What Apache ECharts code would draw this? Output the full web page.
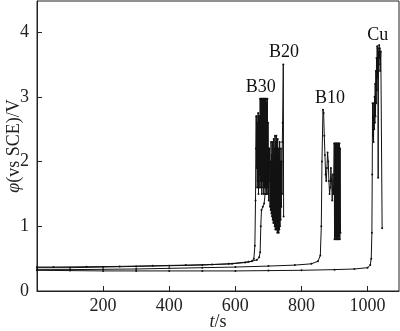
<!DOCTYPE html>
<html>
<head>
<meta charset="utf-8">
<script src="https://cdn.jsdelivr.net/npm/echarts@6/dist/echarts.min.js"></script>
<style>
  html, body { margin: 0; padding: 0; background: #fff; }
  #chart { width: 400px; height: 331px; }
</style>
</head>
<body>
<div id="chart"></div>
<script>
// 时间 t/s, 电位 φ/V，按曲线读取
let b30 = [
  [0, 0.37], [50, 0.37], [150, 0.375], [250, 0.38], [350, 0.39], [450, 0.4], [530, 0.41], [590, 0.42],
  [630, 0.44], [650, 0.46], [656, 0.5], [659, 0.7], [661, 1.4], [662, 2.2], [663, 2.7],
  [664, 1.9], [665, 2.7], [666, 1.6], [667, 2.6], [668, 1.7], [669, 2.75], [670, 1.5], [671, 2.7],
  [672, 1.8], [673, 2.7], [674, 1.6], [675, 2.97], [676, 1.7], [677, 2.97], [678, 1.6], [679, 2.97],
  [680, 1.5], [681, 2.97], [682, 1.7], [683, 2.97], [684, 1.6], [685, 2.97], [686, 1.5], [687, 2.97],
  [688, 1.6], [689, 2.97], [690, 1.7], [691, 2.97], [692, 1.6], [693, 2.97], [694, 1.5], [695, 2.9],
  [696, 1.7], [697, 2.97], [698, 1.6], [699, 2.6], [700, 1.5], [701, 2.2], [702, 1.7]
]
let b20 = [
  [0, 0.36], [100, 0.36], [200, 0.37], [300, 0.38], [400, 0.39], [500, 0.4], [580, 0.42], [640, 0.45],
  [665, 0.48], [672, 0.52], [675, 0.6], [677, 1.0], [679, 1.25], [683, 1.3], [687, 1.35], [690, 1.5],
  [693, 1.9], [696, 1.5], [699, 2.1], [701, 1.4], [703, 2.2], [705, 1.3], [706, 2.0], [707, 1.25],
  [708, 2.3], [709, 1.2], [710, 2.1], [711, 1.15], [712, 2.3], [713, 1.1], [714, 2.0], [715, 1.05],
  [716, 2.35], [717, 1.1], [718, 2.2], [719, 1.0], [720, 2.4], [721, 0.95], [722, 2.3], [723, 1.0],
  [724, 2.4], [725, 0.95], [726, 2.2], [727, 0.9], [728, 2.35], [729, 0.95], [730, 2.2], [731, 0.9],
  [732, 2.1], [733, 0.95], [734, 2.3], [735, 1.0], [736, 2.0], [737, 1.1], [738, 2.2], [739, 1.3],
  [740, 2.0], [741, 1.5], [742, 2.3], [743, 2.6], [745, 3.5], [746, 1.15]
]
let b10 = [
  [0, 0.33], [100, 0.33], [200, 0.335], [300, 0.34], [400, 0.35], [500, 0.36], [600, 0.37], [700, 0.385],
  [780, 0.4], [830, 0.42], [850, 0.46], [857, 0.55], [860, 1.0], [862, 2.0], [865, 2.8], [867, 2.75],
  [869, 2.4], [871, 2.1], [873, 1.8], [875, 1.7], [877, 1.9], [879, 2.14], [881, 2.0], [883, 1.7],
  [885, 1.5], [887, 1.6], [889, 1.9], [891, 1.7], [893, 1.4], [895, 1.8], [897, 1.5],
  [899, 2.28], [900, 0.8], [901, 2.28], [902, 0.85], [903, 2.28], [904, 0.8], [905, 2.28], [906, 0.8],
  [907, 2.28], [908, 0.85], [909, 2.28], [910, 0.8], [911, 2.28], [912, 0.8], [913, 2.28], [914, 0.85],
  [915, 2.28], [916, 0.8], [917, 2.2], [918, 0.9]
]
let cu = [
  [0, 0.32], [100, 0.315], [200, 0.31], [300, 0.31], [400, 0.31], [500, 0.31], [600, 0.31], [700, 0.315],
  [800, 0.32], [900, 0.33], [960, 0.34], [1000, 0.36], [1008, 0.4], [1011, 0.5], [1013, 0.9], [1014, 1.8],
  [1015, 2.9], [1016, 2.4], [1017, 2.7], [1018, 2.3], [1019, 2.9], [1020, 2.5], [1021, 3.0], [1022, 2.6],
  [1023, 3.2], [1024, 2.7], [1025, 3.4], [1026, 2.9], [1027, 3.6], [1028, 3.1], [1029, 3.78], [1030, 3.3],
  [1031, 3.75], [1032, 1.75], [1033, 3.7], [1034, 3.5], [1035, 3.8], [1036, 3.6], [1037, 3.75], [1038, 3.4],
  [1040, 3.7], [1044, 0.97]
]
// 曲线标注位置
let tags = [
  { name: 'B30', at: [677, 3.15] },
  { name: 'B20', at: [747, 3.69] },
  { name: 'B10', at: [886, 2.98] },
  { name: 'Cu', at: [1031, 3.95] }
]
let curves = { B30: b30, B20: b20, B10: b10, Cu: cu }

let font = "'Liberation Serif', 'Times New Roman', serif"
let myChart = echarts.init(document.getElementById('chart'))

let opt = {
  animation: false,
  grid: {
    left: 37, right: 1, top: 1, bottom: 40,
    containLabel: false,
    outerBoundsMode: 'none',
    show: true, borderColor: '#222', borderWidth: 1
  },
  xAxis: {
    type: 'value',
    min: 0, max: 1095, interval: 200,
    name: '{i|t}/s',
    nameLocation: 'middle',
    nameGap: 22,
    nameMoveOverlap: false,
    nameTextStyle: {
      fontFamily: font, fontSize: 18, color: '#222',
      rich: { i: { fontFamily: font, fontSize: 18, fontStyle: 'italic', color: '#222' } }
    },
    axisLine: { lineStyle: { color: '#222', width: 1 } },
    axisTick: { inside: true, length: 5, lineStyle: { color: '#222' } },
    axisLabel: {
      fontFamily: font, fontSize: 18, color: '#222', margin: 6,
      showMaxLabel: false,
      formatter: v => v === 0 ? '' : v
    },
    splitLine: { show: false }
  },
  yAxis: {
    type: 'value',
    min: 0, max: 4.48, interval: 1,
    name: '{i|φ}(vs SCE)/V',
    nameLocation: 'middle',
    nameGap: 14,
    nameMoveOverlap: false,
    nameTextStyle: {
      fontFamily: font, fontSize: 18, color: '#222',
      rich: { i: { fontFamily: font, fontSize: 18, fontStyle: 'italic', color: '#222' } }
    },
    axisLine: { lineStyle: { color: '#222', width: 1 } },
    axisTick: { inside: true, length: 5, lineStyle: { color: '#222' } },
    axisLabel: { fontFamily: font, fontSize: 18, color: '#222', margin: 8, showMaxLabel: false },
    splitLine: { show: false }
  },
  series: tags.map(t => ({
    name: t.name,
    type: 'line',
    data: curves[t.name],
    symbol: 'circle',
    symbolSize: 2,
    showAllSymbol: true,
    itemStyle: { color: '#111' },
    lineStyle: { color: '#111', width: 1 },
    markPoint: {
      symbol: 'circle',
      symbolSize: 1,
      itemStyle: { color: 'rgba(0,0,0,0)' },
      label: { show: true, position: 'inside', formatter: t.name, fontFamily: font, fontSize: 18, color: '#111' },
      data: [{ coord: t.at, value: t.name }]
    }
  }))
}

myChart.setOption(opt)
</script>
</body>
</html>
